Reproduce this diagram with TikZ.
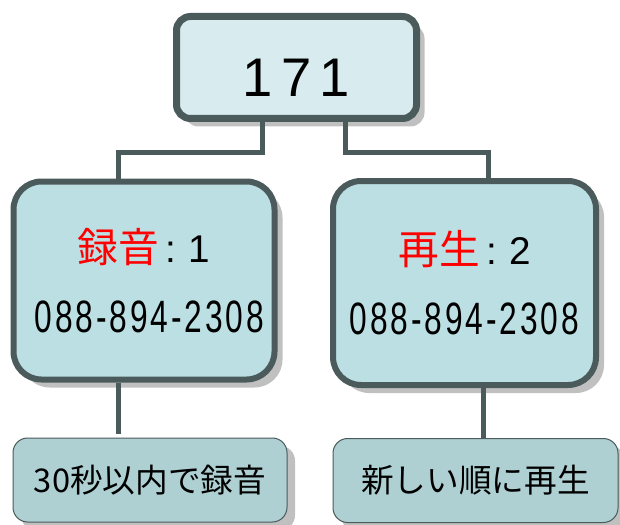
\documentclass[tikz,border=0pt]{standalone}
\usepackage{fontspec}
\setmainfont{Liberation Sans}
\newfontfamily\jpfont{Noto Sans CJK JP}
\newfontfamily\widefont[LetterSpace=15]{Liberation Sans}
\usetikzlibrary{shadows,calc}
\definecolor{rim}{HTML}{4B5A5B}
\definecolor{paleblue}{HTML}{D8ECEF}
\definecolor{midblue}{HTML}{BBDFE3}
\definecolor{leafblue}{HTML}{AED0D3}
\definecolor{shade}{HTML}{C0C0C0}
\newcommand{\phone}[1]{\scalebox{0.70}[1]{\fontsize{34}{40}\selectfont\addfontfeature{LetterSpace=9}#1}}

\begin{document}
\begin{tikzpicture}
  [x=0.75pt, y=-0.75pt,
   every node/.style={inner sep=0pt, text=black},
   card/.style={draw=rim, drop shadow={shadow xshift=6pt, shadow yshift=-6pt, fill=shade, opacity=1}},
   topbox/.style={card, line width=5.25pt, fill=paleblue, rounded corners=10.5pt,
     minimum width=180pt, minimum height=76.5pt, text height=44pt,
     font=\widefont\fontsize{40.8}{45}\selectfont},
   midbox/.style={card, line width=4.5pt, fill=midblue, rounded corners=21pt,
     align=center, font=\fontsize{29}{52.5}\selectfont},
   leafbox/.style={card, line width=0.75pt, fill=leafblue, rounded corners=11pt,
     minimum height=63pt, font=\jpfont\fontsize{24.5}{30}\selectfont},
   conn/.style={draw=rim, line width=3.75pt}]
  \useasboundingbox (0,0) rectangle (620,524);

  \node [topbox] (apex) at (296.5,67.5) {171};

  \node [midbox, minimum width=195.75pt, minimum height=148.5pt] (rec) at (144,280.5)
    {\textcolor{red}{\jpfont\fontsize{30.5}{52.5}\selectfont 録音}\hspace{5pt}:\hspace{9pt}1\\
     \hspace{8pt}\phone{088-894-2308}};
  \node [midbox, minimum width=197.25pt, minimum height=153pt] (play) at (464.5,283)
    {\textcolor{red}{\jpfont\fontsize{30.5}{52.5}\selectfont 再生}\hspace{5pt}:\hspace{9pt}2\\
     \phone{088-894-2308}};

  \node [leafbox, minimum width=205.5pt] (recleaf) at (150,480) {30秒以内で録音};
  \node [leafbox, minimum width=213.75pt] (playleaf) at (475.5,480.5) {新しい順に再生};

  % elbow links from the root
  \draw [conn] ($(apex.south)+(-34.5,0)$) -- ++(0,30) -| ($(rec.north)+(-26,0)$);
  \draw [conn] ($(apex.south)+(48.5,0)$) -- ++(0,30) -| ($(play.north)+(23.5,0)$);

  % straight links down to the leaves
  \draw [conn, shorten >=3pt] ($(rec.south)+(-26,0)$) coordinate (r) -- (r |- recleaf.north);
  \draw [conn] ($(play.south)+(18.5,0)$) coordinate (p) -- (p |- playleaf.north);
\end{tikzpicture}
\end{document}
